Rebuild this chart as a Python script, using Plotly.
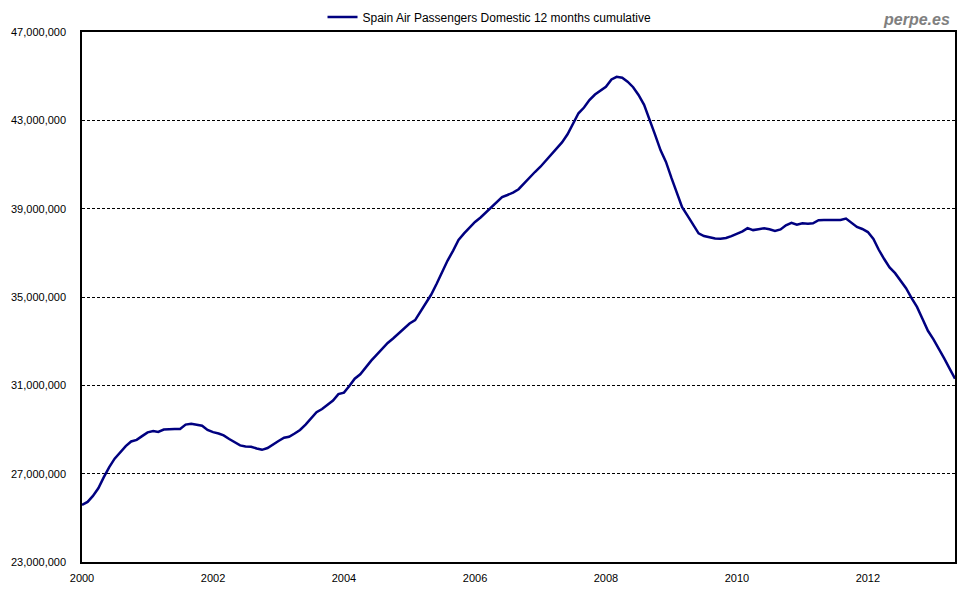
"""
Spain Air Passengers Domestic, 12 months cumulative (Jan 2000 - May 2013).
"""

import pandas as pd
import plotly.graph_objects as go

# datos mensuales, en millones de pasajeros
start_month = "2000-01-01"
passengers_m = [
    25.58, 25.72, 25.98, 26.34, 26.83, 27.30, 27.68, 27.98, 28.25, 28.46, 28.53, 28.70,  # 2000
    28.87, 28.93, 28.89, 29.00, 29.02, 29.02, 29.02, 29.22, 29.26, 29.22, 29.17, 28.98,  # 2001
    28.88, 28.82, 28.73, 28.57, 28.41, 28.28, 28.23, 28.22, 28.14, 28.08, 28.16, 28.30,  # 2002
    28.48, 28.63, 28.67, 28.82, 28.98, 29.22, 29.50, 29.78, 29.93, 30.12, 30.31, 30.60,  # 2003
    30.67, 30.98, 31.30, 31.50, 31.83, 32.12, 32.38, 32.66, 32.92, 33.12, 33.36, 33.58,  # 2004
    33.80, 33.95, 34.30, 34.72, 35.10, 35.60, 36.15, 36.65, 37.10, 37.58, 37.88, 38.15,  # 2005
    38.40, 38.60, 38.82, 39.08, 39.30, 39.52, 39.62, 39.73, 39.88, 40.15, 40.42, 40.66,  # 2006
    40.90, 41.18, 41.46, 41.74, 42.00, 42.37, 42.85, 43.32, 43.58, 43.92, 44.17, 44.35,  # 2007
    44.52, 44.85, 44.97, 44.93, 44.75, 44.50, 44.15, 43.70, 43.05, 42.35, 41.64, 41.12,  # 2008
    40.38, 39.68, 39.07, 38.67, 38.26, 37.88, 37.76, 37.70, 37.65, 37.64, 37.67, 37.76,  # 2009
    37.86, 37.97, 38.12, 38.03, 38.07, 38.11, 38.07, 37.99, 38.06, 38.25, 38.36, 38.27,  # 2010
    38.34, 38.32, 38.34, 38.48, 38.49, 38.49, 38.49, 38.49, 38.55, 38.37, 38.17, 38.08,  # 2011
    37.94, 37.63, 37.15, 36.72, 36.34, 36.08, 35.77, 35.40, 34.95, 34.55, 34.00, 33.47,  # 2012
    33.08, 32.65, 32.23, 31.76, 31.30,                                                   # 2013
]
year_ticks = ["2000", "2002", "2004", "2006", "2008", "2010", "2012"]

FONT = "Arial, Liberation Sans, sans-serif"


def main():
    months = pd.date_range(start_month, periods=len(passengers_m), freq="MS")
    values = [v * 1e6 for v in passengers_m]

    fig = go.Figure()
    fig.add_trace(go.Scatter(
        x=months, y=values, mode="lines",
        name="Spain Air Passengers Domestic 12 months cumulative",
        line=dict(color="#000080", width=2.5),
    ))

    # la pagina tiene 8px de margen en el body: figura de 972x592
    fig.update_layout(
        width=972, height=592, autosize=False,
        margin=dict(l=74, r=25, t=24, b=38, autoexpand=False),
        paper_bgcolor="white", plot_bgcolor="white",
        font=dict(family=FONT, size=11, color="black"),
        showlegend=True,
        legend=dict(
            orientation="h", x=0.4668, xanchor="center",
            yref="container", y=0.985, yanchor="middle",
            bgcolor="rgba(0,0,0,0)",
            font=dict(size=12, color="black"),
            itemwidth=30,
        ),
        annotations=[dict(
            text="<b><i>perpe.es</i></b>",
            xref="paper", yref="paper", x=0.9966, y=1.044,
            xanchor="right", yanchor="top", showarrow=False,
            font=dict(size=16, color="#808080", family=FONT),
        )],
    )

    fig.update_xaxes(
        type="date",
        range=[months[0], months[-1]],
        tickvals=[pd.Timestamp(y + "-01-01") for y in year_ticks],
        ticktext=year_ticks,
        showgrid=False, zeroline=False,
        showline=True, linecolor="black", linewidth=1.5, mirror=True,
        ticks="", ticklabelstandoff=5,
        tickfont=dict(size=11, color="black"),
    )
    fig.update_yaxes(
        range=[23e6, 47e6], tick0=23e6, dtick=4e6, tickformat=",d",
        showgrid=True, gridcolor="black", gridwidth=1, griddash="3px,2px",
        zeroline=False,
        showline=True, linecolor="black", linewidth=1.5, mirror=True,
        ticks="", ticklabelstandoff=12,
        tickfont=dict(size=11, color="black"),
    )

    fig.write_html("out.html")


if __name__ == "__main__":
    main()
